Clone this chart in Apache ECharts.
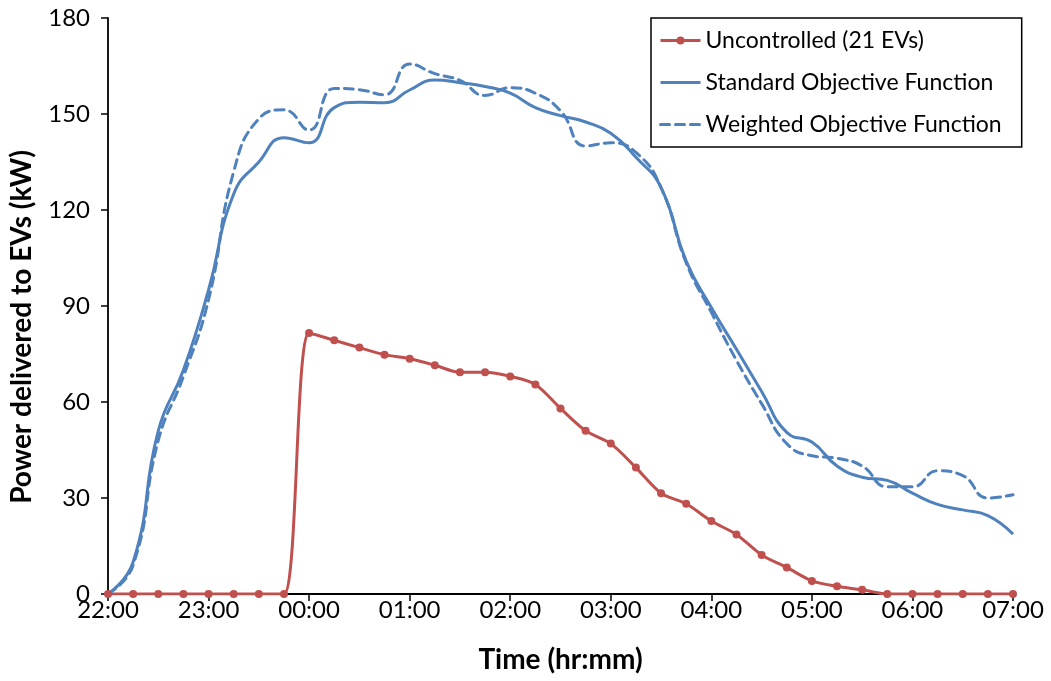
<!DOCTYPE html>
<html>
<head>
<meta charset="utf-8">
<script src="https://cdn.jsdelivr.net/npm/echarts@6/dist/echarts.min.js"></script>
<style>
  html, body { margin: 0; padding: 0; background: #fff; }
  #chart { width: 1051px; height: 681px; }
</style>
</head>
<body>
<div id="chart"></div>
<script>
// 15-minute samples from 22:00 to 07:00
const times = [
  '22:00', '22:15', '22:30', '22:45', '23:00', '23:15', '23:30', '23:45',
  '00:00', '00:15', '00:30', '00:45', '01:00', '01:15', '01:30', '01:45',
  '02:00', '02:15', '02:30', '02:45', '03:00', '03:15', '03:30', '03:45',
  '04:00', '04:15', '04:30', '04:45', '05:00', '05:15', '05:30', '05:45',
  '06:00', '06:15', '06:30', '06:45', '07:00'
];

const uncontrolled = [
  0, 0, 0, 0, 0, 0, 0, 0,
  81.6, 79.3, 77, 74.8, 73.5, 71.5, 69.3, 69.3,
  68, 65.5, 58, 51, 47, 39.5, 31.5, 28.2,
  22.8, 18.6, 12.2, 8.3, 4.1, 2.4, 1.3, 0,
  0, 0, 0, 0, 0
];

const standardObj = [
  0, 10, 51, 70, 95, 125, 135, 142.6,
  141, 152, 153.7, 153.5, 157.5, 160.6, 159.8, 158.6,
  156.5, 152, 149.5, 147.5, 144, 136.5, 127, 104,
  89.5, 76.5, 63.3, 50.5, 47.5, 40, 36.5, 35.5,
  31.5, 28, 26.3, 24.5, 18.7
];

const weightedObj = [
  0, 9, 48, 68, 92, 132, 148.5, 151.3,
  145, 158, 157.6, 156, 165.6, 162.6, 160.5, 155.8,
  158.2, 156.5, 151, 140, 141, 138, 127, 103.5,
  88, 73, 59.5, 47, 43.2, 42.4, 40, 33.5,
  33.5, 38.5, 37, 30, 31
];

const seriesNames = ['Uncontrolled (21 EVs)', 'Standard Objective Function', 'Weighted Objective Function'];

const RED = '#C0504D';
const BLUE = '#4F81BD';
const FONT = 'Lato';

const chart = echarts.init(document.getElementById('chart'));
chart.setOption({
  animation: false,
  backgroundColor: '#fff',
  grid: { left: 108, right: 38, top: 18, bottom: 87 },
  legend: {
    orient: 'vertical',
    left: 651,
    top: 18,
    padding: [9, 20, 9, 8],
    itemGap: 15,
    itemWidth: 40,
    itemHeight: 10,
    borderColor: '#000',
    borderWidth: 1.5,
    backgroundColor: '#fff',
    textStyle: { fontFamily: FONT, fontSize: 23, color: '#000', lineHeight: 27 },
    data: [
      { name: seriesNames[0], lineStyle: { width: 3 } },
      { name: seriesNames[1], itemStyle: { opacity: 0 }, lineStyle: { width: 3 } },
      { name: seriesNames[2], itemStyle: { opacity: 0 }, lineStyle: { width: 3 } }
    ]
  },
  xAxis: {
    type: 'category',
    data: times,
    boundaryGap: false,
    name: 'Time (hr:mm)',
    nameLocation: 'middle',
    nameGap: 52,
    nameTextStyle: { fontFamily: FONT, fontSize: 28, fontWeight: 'bold', color: '#000' },
    axisLine: { lineStyle: { color: '#000', width: 1.8 } },
    axisTick: { show: true, interval: 3, length: 7, lineStyle: { color: '#000', width: 1.5 } },
    axisLabel: { interval: 3, margin: 4, fontFamily: FONT, fontSize: 24, color: '#000' },
    splitLine: { show: false }
  },
  yAxis: {
    type: 'value',
    min: 0,
    max: 180,
    interval: 30,
    name: 'Power delivered to EVs (kW)',
    nameLocation: 'middle',
    nameRotate: 90,
    nameGap: 72,
    nameTextStyle: {
      fontFamily: FONT, fontSize: 28, fontWeight: 'bold', color: '#000',
      padding: [0, 42, 0, 0]
    },
    axisLine: { show: true, lineStyle: { color: '#000', width: 1.8 } },
    axisTick: { show: true, length: 7, lineStyle: { color: '#000', width: 1.5 } },
    axisLabel: { margin: 18, fontFamily: FONT, fontSize: 24, color: '#000' },
    splitLine: { show: false }
  },
  series: [
    {
      name: seriesNames[0],
      type: 'line',
      data: uncontrolled,
      smooth: 0.3,
      symbol: 'circle',
      symbolSize: 8,
      showSymbol: true,
      itemStyle: { color: RED },
      lineStyle: { color: RED, width: 3 }
    },
    {
      name: seriesNames[1],
      type: 'line',
      data: standardObj,
      smooth: 0.5,
      symbol: 'none',
      itemStyle: { color: BLUE },
      lineStyle: { color: BLUE, width: 3 }
    },
    {
      name: seriesNames[2],
      type: 'line',
      data: weightedObj,
      smooth: 0.5,
      symbol: 'none',
      itemStyle: { color: BLUE },
      lineStyle: { color: BLUE, width: 3, type: [9, 6], cap: 'round' }
    }
  ]
});
</script>
</body>
</html>
